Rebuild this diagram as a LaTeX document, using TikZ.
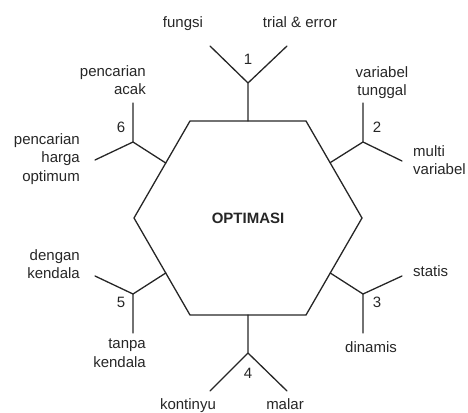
\documentclass[tikz,border=0pt]{standalone}
\usepackage{fontspec}
\setmainfont{Liberation Sans}
\usetikzlibrary{calc}
\begin{document}
\begin{tikzpicture}[x=1pt,y=-1pt,
  every node/.style={font=\fontsize{15}{18.5}\selectfont, text=black!85, inner sep=0pt},
  edge/.style={draw=black!85, line width=1.3pt, line cap=round, line join=round},
  hexline/.style={draw=black!85, line width=1.3pt, line join=miter},
  lblc/.style={anchor=north, align=center},
  lbll/.style={anchor=north west, align=left},
  lblr/.style={anchor=north east, align=right},
  num/.style={anchor=center}]
\useasboundingbox (0,0) rectangle (468,412);
% hexagon
\coordinate (TL) at (190,121);
\coordinate (TR) at (306,121);
\coordinate (R) at (362,218);
\coordinate (BR) at (306,315);
\coordinate (BL) at (190,315);
\coordinate (L) at (134,218);
\draw[hexline] (TL) -- (TR) -- (R) -- (BR) -- (BL) -- (L) -- cycle;
\node[font=\fontsize{15}{18}\selectfont\bfseries] (center) at (248,218) {OPTIMASI};
% branch 1
\coordinate (a1) at ($(TL)!0.5!(TR)$);
\coordinate (j1) at (248,83);
\coordinate (e1a) at (210,46);
\coordinate (e1b) at (287,46);
\draw[edge] (a1) -- (j1) (e1a) -- (j1) -- (e1b);
\node[num] (n1) at (248,59) {1};
\node[lblc] (t1a) at (183,16) {fungsi};
\node[lblc] (t1b) at (300,16) {trial \& error};
% branch 4
\coordinate (a4) at ($(BL)!0.5!(BR)$);
\coordinate (j4) at (248,353);
\coordinate (e4a) at (210,391);
\coordinate (e4b) at (287,391);
\draw[edge] (a4) -- (j4) (e4a) -- (j4) -- (e4b);
\node[num] (n4) at (248,373) {4};
\node[lblc] (t4a) at (188,398) {kontinyu};
\node[lblc] (t4b) at (285,398) {malar};
% branch 2
\coordinate (a2) at ($(TR)!0.43!(R)$);
\coordinate (j2) at (363,142);
\coordinate (e2a) at (363,103);
\coordinate (e2b) at (402,161);
\draw[edge] (a2) -- (j2) (e2a) -- (j2) -- (e2b);
\node[num] (n2) at (377,127) {2};
\node[lblc] (t2a) at (382,66) {variabel\\tunggal};
\node[lbll] (t2b) at (413,145) {multi\\variabel};
% branch 3
\coordinate (a3) at ($(R)!0.567!(BR)$);
\coordinate (j3) at (363,294);
\coordinate (e3a) at (402,276);
\coordinate (e3b) at (363,333);
\draw[edge] (a3) -- (j3) (e3a) -- (j3) -- (e3b);
\node[num] (n3) at (377,302) {3};
\node[lbll] (t3a) at (413,265) {statis};
\node[lblc] (t3b) at (371,341) {dinamis};
% branch 5
\coordinate (a5) at ($(L)!0.567!(BL)$);
\coordinate (j5) at (133,294);
\coordinate (e5a) at (95,276);
\coordinate (e5b) at (133,333);
\draw[edge] (a5) -- (j5) (e5a) -- (j5) -- (e5b);
\node[num] (n5) at (121,302) {5};
\node[lblr] (t5a) at (80,249) {dengan\\kendala};
\node[lblr] (t5b) at (146,339) {tanpa\\kendala};
% branch 6
\coordinate (a6) at ($(L)!0.567!(TL)$);
\coordinate (j6) at (133,142);
\coordinate (e6a) at (133,103);
\coordinate (e6b) at (95,160);
\draw[edge] (a6) -- (j6) (e6a) -- (j6) -- (e6b);
\node[num] (n6) at (121,127) {6};
\node[lblr] (t6a) at (146,65) {pencarian\\acak};
\node[lblr] (t6b) at (80,133) {pencarian\\harga\\optimum};
\end{tikzpicture}
\end{document}
